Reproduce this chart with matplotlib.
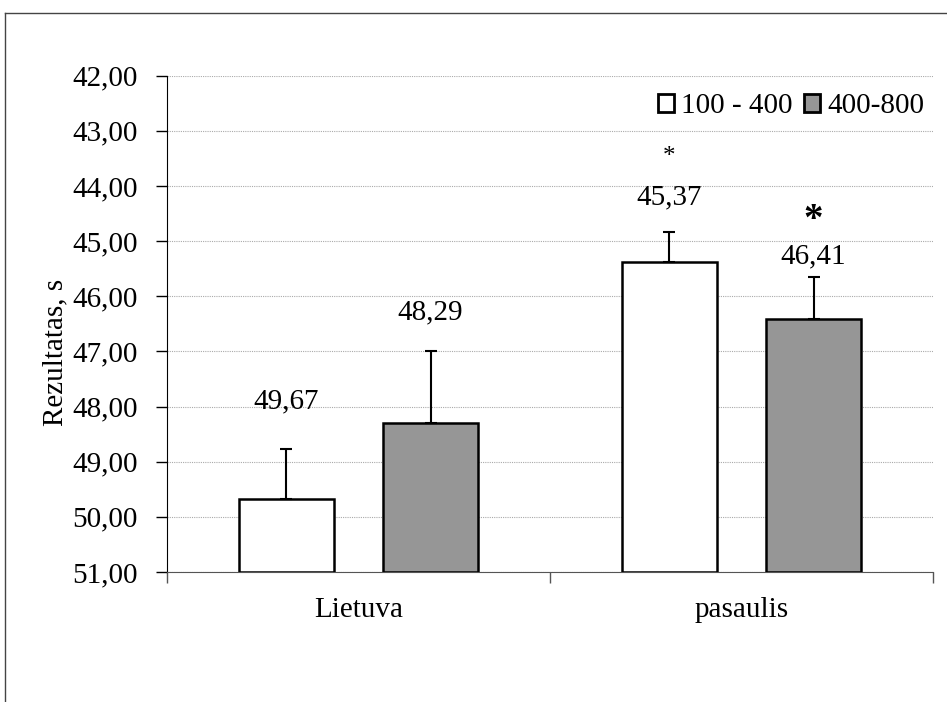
import numpy as np
import matplotlib
matplotlib.use("Agg")
import matplotlib.pyplot as plt
from matplotlib.lines import Line2D

# Duomenys
kategorijos = ["Lietuva", "pasaulis"]
grupes = ["100 - 400", "400-800"]
reiksmes_100_400 = [49.67, 45.37]
reiksmes_400_800 = [48.29, 46.41]
paklaidos_100_400 = [0.90, 0.54]
paklaidos_400_800 = [1.29, 0.76]
y_ticks = [42, 43, 44, 45, 46, 47, 48, 49, 50, 51]

plt.rcParams['font.family'] = ['Liberation Serif', 'DejaVu Serif']
plt.rcParams['font.size'] = 21

fig = plt.figure(figsize=(9.47, 7.02), dpi=100)
ax = fig.add_axes([167/947, 130/702, 766/947, 496.3/702])

x = np.arange(len(kategorijos))
plotis = 0.25
poslinkis = 0.188
pagrindas = 51

spalvos = ["white", "#969696"]
serijos = [(reiksmes_100_400, paklaidos_100_400), (reiksmes_400_800, paklaidos_400_800)]
# teksto poslinkiai virs paklaidu (taskais)
teksto_posl = [[34, 24.5], [28, 15]]

for i, (vals, errs) in enumerate(serijos):
    xs = x + (-poslinkis if i == 0 else poslinkis)
    vals = np.array(vals)
    ax.bar(xs, vals - pagrindas, bottom=pagrindas, width=plotis,
           color=spalvos[i], edgecolor="black", linewidth=1.8,
           label=grupes[i], zorder=3)
    ax.errorbar(xs, vals, yerr=[errs, np.zeros(len(errs))], fmt="none",
                ecolor="black", elinewidth=1.5, capsize=4, capthick=1.5, zorder=4)
    for j in range(len(xs)):
        ax.annotate(f"{vals[j]:.2f}".replace(".", ","),
                    (xs[j], vals[j] - errs[j]), xytext=(0, teksto_posl[i][j]),
                    textcoords="offset points", ha="center", va="center")

# reiksmingumo zvaigzdutes
ax.text(x[1] - poslinkis, 43.48, "*", ha="center", va="center", fontsize=18)
ax.text(x[1] + poslinkis, 44.62, "*", ha="center", va="center", fontsize=28, fontweight="bold")

ax.set_ylim(51, 42)
ax.set_yticks(y_ticks)
ax.set_yticklabels([f"{t:.2f}".replace(".", ",") for t in y_ticks])
ax.set_xlim(-0.5, 1.5)
ax.set_xticks([-0.5, 0.5, 1.5])
ax.set_xticklabels([])
ax.set_xticks(x, minor=True)
ax.set_xticklabels(kategorijos, minor=True)
ax.tick_params(axis="x", which="minor", length=0, pad=18)
ax.tick_params(axis="x", which="major", length=8, width=1, color="#555555")
ax.tick_params(axis="y", length=8, width=1, pad=13, color="black")

ax.grid(axis="y", linestyle=(0, (1, 1)), color="#aaaaaa", linewidth=0.8, zorder=0)
ax.spines["top"].set_visible(False)
ax.spines["right"].set_visible(False)
ax.spines["left"].set_color("black")
ax.spines["bottom"].set_color("#555555")

ax.text(-0.146, 0.443, "Rezultatas, s", rotation=90, ha="center", va="center",
        transform=ax.transAxes)

leg = ax.legend(loc="upper right", bbox_to_anchor=(1.012, 1.0), ncol=2, frameon=False,
                handlelength=0.55, handleheight=0.55, handletextpad=0.25,
                columnspacing=0.4, borderaxespad=0.2)
for h in leg.legend_handles:
    h.set_linewidth(2)

# remelis aplink diagrama
fig.add_artist(Line2D([5/947, 5/947], [0, 689/702], color="#444444", linewidth=1))
fig.add_artist(Line2D([5/947, 1], [689/702, 689/702], color="#444444", linewidth=1))

fig.savefig("out.png", dpi=100)
